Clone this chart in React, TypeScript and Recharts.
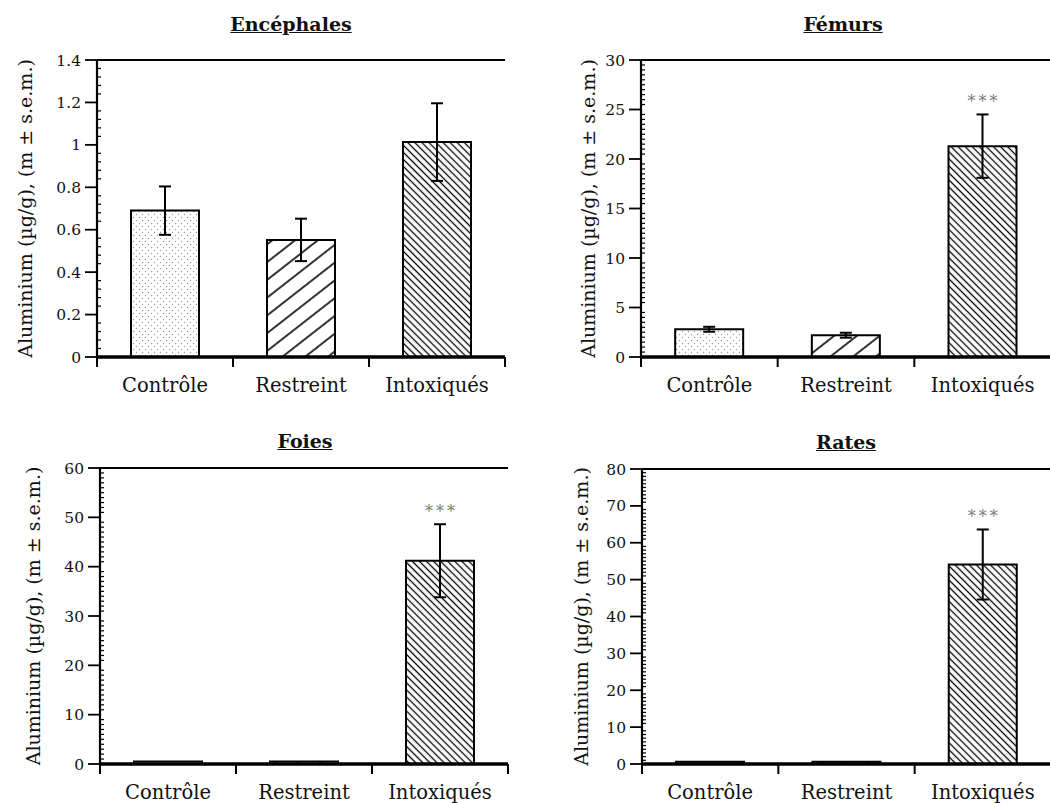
import React from 'react';
import { ComposedChart, Bar, XAxis, YAxis, ErrorBar, Cell, ReferenceLine } from 'recharts';

const categories = ['Contrôle', 'Restreint', 'Intoxiqués'];

const encephalesValues = [0.69, 0.552, 1.013];
const encephalesErrors = [0.114, 0.1, 0.183];
const encephalesSig = ['', '', ''];
const femursValues = [2.8, 2.2, 21.3];
const femursErrors = [0.25, 0.25, 3.2];
const femursSig = ['', '', '***'];
const foiesValues = [0.5, 0.5, 41.2];
const foiesErrors = [0, 0, 7.4];
const foiesSig = ['', '', '***'];
const ratesValues = [0.6, 0.6, 54.1];
const ratesErrors = [0, 0, 9.5];
const ratesSig = ['', '', '***'];

const encephalesTicks = [0, 0.2, 0.4, 0.6, 0.8, 1, 1.2, 1.4];
const femursTicks = [0, 5, 10, 15, 20, 25, 30];
const foiesTicks = [0, 10, 20, 30, 40, 50, 60];
const ratesTicks = [0, 10, 20, 30, 40, 50, 60, 70, 80];

const fills = ['url(#dots)', 'url(#hatchSparse)', 'url(#hatchDense)'];
const yLabel = 'Aluminium (µg/g), (m ± s.e.m.)';
const FONT = "'DejaVu Serif', 'Liberation Serif', serif";

function buildRows(values: number[], errors: number[], sig: string[]) {
    return categories.map((name, i) => ({ name, value: values[i], err: errors[i], sig: sig[i] }));
}

function minorTicks(majors: number[], per: number) {
    const step = (majors[1] - majors[0]) / per;
    const out: number[] = [];
    const max = majors[majors.length - 1];
    for (let i = 0; i * step <= max + 1e-9; i++) out.push(Math.round(i * step * 1000) / 1000);
    return out;
}

const ValueTick = ({ x, y, payload, majors }: any) => {
    const v = payload.value;
    const isMajor = majors.some((m: number) => Math.abs(m - v) < 1e-6);
    if (isMajor) {
        return (
            <g>
                <line x1={x - 12} x2={x} y1={y} y2={y} stroke="#000" strokeWidth={1.8} />
                <text x={x - 16} y={y} dy={5.5} textAnchor="end" style={{ fontFamily: FONT, fontSize: 15.5 }} fill="#111">{v}</text>
            </g>
        );
    }
    return <line x1={x} x2={x + 4} y1={y} y2={y} stroke="#000" strokeWidth={1.2} />;
};

const CategoryTick = ({ x, y, payload, index, band }: any) => {
    const left = x - band / 2;
    return (
        <g>
            <line x1={left} y1={y} x2={left} y2={y + 10} stroke="#000" strokeWidth={2} />
            {index === categories.length - 1 && (
                <line x1={left + band} y1={y} x2={left + band} y2={y + 10} stroke="#000" strokeWidth={2} />
            )}
            <text x={x} y={y + 35} textAnchor="middle" style={{ fontFamily: FONT, fontSize: 19.5 }} fill="#111">{payload.value}</text>
        </g>
    );
};

interface PanelProps {
    title: string;
    titleX: number;
    titleY: number;
    values: number[];
    errors: number[];
    sig: string[];
    ticks: number[];
    minorPer: number;
    left: number;
    top: number;
    width: number;
    height: number;
    margin: { top: number; right: number; bottom: number; left: number };
    yAxisWidth: number;
    xAxisHeight: number;
    labelX: number;
}

function Panel(p: PanelProps) {
    const data = buildRows(p.values, p.errors, p.sig);
    const max = p.ticks[p.ticks.length - 1];
    const plotWidth = p.width - p.margin.left - p.margin.right - p.yAxisWidth;
    const band = plotWidth / categories.length;

    const starLabel = (props: any) => {
        const vb = props.viewBox ?? props;
        const x = vb.x ?? props.x;
        const y = vb.y ?? props.y;
        const w = vb.width ?? props.width;
        const h = vb.height ?? props.height;
        const d = data[props.index];
        if (!d || !d.sig) return null;
        const errPx = d.value ? (d.err / d.value) * Math.abs(h) : 0;
        return (
            <text x={x + w / 2 + 1.5} y={y - errPx - 7} textAnchor="middle" letterSpacing={3} style={{ fontFamily: FONT, fontSize: 16 }} fill="#777">
                {d.sig}
            </text>
        );
    };

    return (
        <div style={{ position: 'absolute', left: p.left, top: p.top, width: p.width, height: p.height }}>
            <div
                style={{
                    position: 'absolute',
                    left: p.titleX,
                    top: p.titleY,
                    transform: 'translateX(-50%)',
                    fontFamily: FONT,
                    fontWeight: 'bold',
                    fontSize: 19,
                    lineHeight: '22px',
                    textDecoration: 'underline',
                    color: '#111',
                    whiteSpace: 'nowrap',
                }}
            >
                {p.title}
            </div>
            <ComposedChart width={p.width} height={p.height} data={data} margin={p.margin} barCategoryGap="25%">
                <XAxis
                    dataKey="name"
                    height={p.xAxisHeight}
                    interval={0}
                    tickSize={0}
                    tickMargin={0}
                    tickLine={false}
                    axisLine={{ stroke: '#000', strokeWidth: 3.5 }}
                    tick={(t: any) => <CategoryTick {...t} band={band} />}
                />
                <YAxis
                    width={p.yAxisWidth}
                    domain={[0, max]}
                    ticks={minorTicks(p.ticks, p.minorPer)}
                    interval={0}
                    tickSize={0}
                    tickMargin={0}
                    tickLine={false}
                    axisLine={{ stroke: '#000', strokeWidth: 2.2 }}
                    tick={(t: any) => <ValueTick {...t} majors={p.ticks} />}
                    label={(lp: any) => {
                        const vb = lp.viewBox;
                        const cy = vb.y + vb.height / 2;
                        return (
                            <text
                                x={p.labelX}
                                y={cy}
                                transform={`rotate(-90 ${p.labelX} ${cy})`}
                                textAnchor="middle"
                                style={{ fontFamily: FONT, fontSize: 19 }}
                                fill="#111"
                            >
                                {yLabel}
                            </text>
                        );
                    }}
                />
                <YAxis
                    yAxisId="frame"
                    orientation="right"
                    mirror
                    width={0}
                    domain={[0, max]}
                    tick={false}
                    tickLine={false}
                    axisLine={{ stroke: '#000', strokeWidth: 2 }}
                />
                <ReferenceLine y={max} stroke="#000" strokeWidth={2} />
                <Bar dataKey="value" stroke="#000" strokeWidth={2} isAnimationActive={false} label={starLabel}>
                    {data.map((_, i) => (
                        <Cell key={i} fill={fills[i]} />
                    ))}
                    <ErrorBar dataKey="err" width={6} stroke="#000" strokeWidth={2} direction="y" />
                </Bar>
            </ComposedChart>
        </div>
    );
}

export default function App() {
    return (
        <div style={{ position: 'absolute', left: 0, top: 0, width: 1050, height: 803, overflow: 'hidden', background: '#fff' }}>
            <svg width={0} height={0} style={{ position: 'absolute' }}>
                <defs>
                    <pattern id="dots" patternUnits="userSpaceOnUse" width={6} height={6}>
                        <rect width={6} height={6} fill="#fff" />
                        <circle cx={1.5} cy={1.5} r={0.7} fill="#9a9a9a" />
                        <circle cx={4.5} cy={4.5} r={0.7} fill="#9a9a9a" />
                    </pattern>
                    <pattern id="hatchSparse" patternUnits="userSpaceOnUse" width={14} height={14} patternTransform="rotate(52)">
                        <rect width={14} height={14} fill="#fff" />
                        <line x1={7} y1={0} x2={7} y2={14} stroke="#000" strokeWidth={1.6} />
                    </pattern>
                    <pattern id="hatchDense" patternUnits="userSpaceOnUse" width={5} height={5} patternTransform="rotate(-45)">
                        <rect width={5} height={5} fill="#fff" />
                        <line x1={2.5} y1={0} x2={2.5} y2={5} stroke="#000" strokeWidth={1.3} />
                    </pattern>
                </defs>
            </svg>
            <Panel
                title="Encéphales"
                titleX={291}
                titleY={13}
                values={encephalesValues}
                errors={encephalesErrors}
                sig={encephalesSig}
                ticks={encephalesTicks}
                minorPer={5}
                left={0}
                top={0}
                width={525}
                height={400}
                margin={{ top: 60, right: 20, bottom: 0, left: 0 }}
                yAxisWidth={97}
                xAxisHeight={43}
                labelX={32}
            />
            <Panel
                title="Fémurs"
                titleX={318}
                titleY={13}
                values={femursValues}
                errors={femursErrors}
                sig={femursSig}
                ticks={femursTicks}
                minorPer={10}
                left={525}
                top={0}
                width={530}
                height={400}
                margin={{ top: 60, right: 4, bottom: 0, left: 0 }}
                yAxisWidth={116}
                xAxisHeight={43}
                labelX={70}
            />
            <Panel
                title="Foies"
                titleX={305}
                titleY={30}
                values={foiesValues}
                errors={foiesErrors}
                sig={foiesSig}
                ticks={foiesTicks}
                minorPer={10}
                left={0}
                top={400}
                width={525}
                height={403}
                margin={{ top: 68, right: 17, bottom: 0, left: 0 }}
                yAxisWidth={100}
                xAxisHeight={39}
                labelX={40}
            />
            <Panel
                title="Rates"
                titleX={321}
                titleY={31}
                values={ratesValues}
                errors={ratesErrors}
                sig={ratesSig}
                ticks={ratesTicks}
                minorPer={10}
                left={525}
                top={400}
                width={530}
                height={403}
                margin={{ top: 69, right: 4, bottom: 0, left: 0 }}
                yAxisWidth={117}
                xAxisHeight={39}
                labelX={63}
            />
        </div>
    );
}
